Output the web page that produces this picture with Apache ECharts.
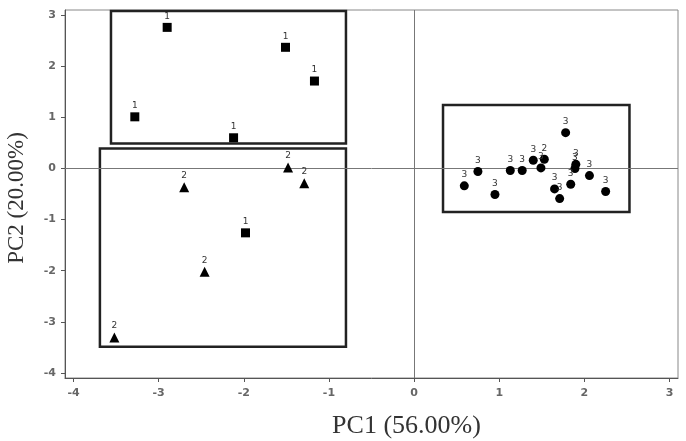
<!DOCTYPE html>
<html><head><meta charset="utf-8">
<script src="https://cdn.jsdelivr.net/npm/echarts@6/dist/echarts.min.js"></script>
<style>html,body{margin:0;padding:0;background:#fff}#c{width:686px;height:441px}</style>
</head><body><div id="c"></div>
<script>
// Data
const ticksX = [-4, -3, -2, -1, 0, 1, 2, 3];
const ticksY = [-4, -3, -2, -1, 0, 1, 2, 3];
const group1 = [[-2.90,2.76],[-1.51,2.37],[-1.17,1.71],[-3.28,1.01],[-2.12,0.60],[-1.98,-1.26]];
const group2 = [[-1.48,0.02],[-1.29,-0.29],[-2.70,-0.37],[-2.46,-2.02],[-3.52,-3.31]];
const group3 = [[0.59,-0.34],[0.75,-0.06],[0.95,-0.51],[1.13,-0.04],[1.27,-0.04],[1.40,0.16],[1.49,0.01],[1.78,0.70],[1.90,0.08],[1.89,0.00],[2.06,-0.14],[1.84,-0.31],[1.65,-0.40],[1.71,-0.59],[2.25,-0.45]];
const group3b = [[1.53,0.18]]; // circle labelled "2"
const boxes = [
  [[-3.56,3.08],[-0.80,0.49]],
  [[-3.69,0.39],[-0.80,-3.49]],
  [[0.34,1.24],[2.53,-0.85]]
];
const xTitle = 'PC1 (56.00%)';
const yTitle = 'PC2 (20.00%)';

const chart = echarts.init(document.getElementById('c'));
const lbl = (t) => ({show:true, position:'top', distance:2, formatter:t, fontSize:9, color:'#333', fontFamily:'DejaVu Sans'});
const axisLabelStyle = {fontSize:11, color:'#666', fontFamily:'DejaVu Sans', fontWeight:'bold'};
const mk = {color:'#000', opacity:1};
chart.setOption({
  animation:false,
  backgroundColor:'#fff',
  grid:{left:65, right:8, top:10, bottom:63, show:true, borderColor:'#888', borderWidth:1, containLabel:false, outerBoundsMode:'none'},
  xAxis:{type:'value', min:-4.1, max:3.1, splitLine:{show:false},
    axisLine:{onZero:false, lineStyle:{color:'#555'}},
    axisTick:{show:true, customValues:ticksX, length:4, lineStyle:{color:'#555'}},
    axisLabel:Object.assign({customValues:ticksX, margin:10}, axisLabelStyle),
    name:xTitle, nameLocation:'middle', nameGap:35,
    nameTextStyle:{fontFamily:'Liberation Serif', fontSize:26, color:'#333', padding:[0,0,0,70]}},
  yAxis:{type:'value', min:-4.1, max:3.1, splitLine:{show:false},
    axisLine:{show:true, onZero:false, lineStyle:{color:'#555'}},
    axisTick:{show:true, customValues:ticksY, length:4, lineStyle:{color:'#555'}},
    axisLabel:Object.assign({customValues:ticksY, margin:9}, axisLabelStyle),
    name:yTitle, nameLocation:'middle', nameGap:37,
    nameTextStyle:{fontFamily:'Liberation Serif', fontSize:23, color:'#333', padding:[0,8,0,0]}},
  series:[
    {type:'scatter', data:group1, symbol:'rect', symbolSize:9, itemStyle:mk, label:lbl('1'), z:5,
      markLine:{silent:true, symbol:'none', label:{show:false}, lineStyle:{color:'#777', width:1, type:'solid'},
        data:[{xAxis:0},{yAxis:0}]},
      markArea:{silent:true, itemStyle:{color:'rgba(0,0,0,0)', borderColor:'#222', borderWidth:2.5},
        data:boxes.map(b => [{coord:b[0]},{coord:b[1]}])}},
    {type:'scatter', data:group2, symbol:'triangle', symbolSize:10, itemStyle:mk, label:lbl('2'), z:5},
    {type:'scatter', data:group3, symbol:'circle', symbolSize:9, itemStyle:mk, label:lbl('3'), z:5},
    {type:'scatter', data:group3b, symbol:'circle', symbolSize:9, itemStyle:mk, label:lbl('2'), z:5}
  ]
});
</script></body></html>
